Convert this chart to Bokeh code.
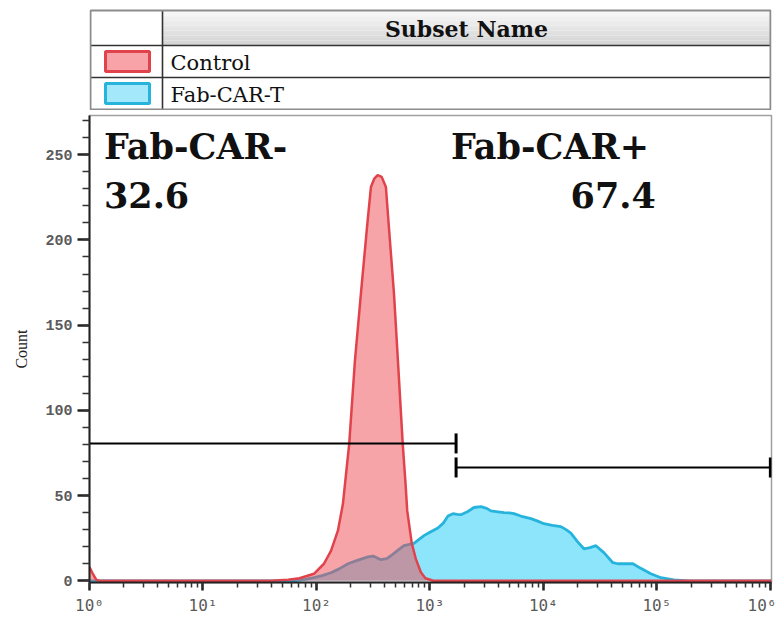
import numpy as np
from bokeh.plotting import figure
from bokeh.layouts import column
from bokeh.models import Range1d, SingleIntervalTicker, LogTicker, Label, CustomJSTickFormatter
from bokeh.embed import file_html
from bokeh.resources import INLINE
from bokeh.core.properties import value

# ---------------- data ----------------
# log10 of fluorescence intensity and event counts
control_log_fl = [0.0, 0.03, 0.06, 0.09, 1.60, 1.75, 1.85, 1.978, 2.066, 2.128, 2.189, 2.233,
                  2.289, 2.339, 2.392, 2.445, 2.48, 2.51, 2.539, 2.575, 2.612, 2.639, 2.683,
                  2.718, 2.76, 2.785, 2.80, 2.84, 2.875, 2.92, 2.96, 3.03, 6.01]
control_count = [8, 4, 0.5, 0, 0, 0.6, 1.5, 4.1, 10, 17.6, 29.4, 45,
                 80.6, 129, 168.6, 207, 231, 236, 238, 237, 231, 207, 168.6,
                 129, 80.6, 57, 41, 22, 13, 5, 1.5, 0, 0]

car_log_fl = [0.0, 1.80, 1.90, 1.978, 2.05, 2.128, 2.20, 2.278, 2.36, 2.454, 2.50, 2.568, 2.62,
              2.656, 2.71, 2.771, 2.859, 2.947, 3.00, 3.07, 3.12, 3.159, 3.203, 3.24, 3.273,
              3.33, 3.388, 3.449, 3.50, 3.537, 3.60, 3.652, 3.70, 3.740, 3.80, 3.890, 3.95,
              4.004, 4.08, 4.154, 4.20, 4.242, 4.30, 4.357, 4.41, 4.463, 4.533, 4.612, 4.656,
              4.72, 4.789, 4.850, 4.947, 5.035, 5.150, 5.273, 6.01]
car_count = [0, 0, 0.8, 1.8, 3, 4.7, 7, 10, 12, 14, 14.5, 12.4, 13,
             14.7, 17.5, 20.6, 22, 26.5, 28.5, 31, 34, 38, 39.4, 39, 38.8,
             40.5, 43, 43.5, 42.5, 41, 40.5, 40, 39.8, 39.4, 38, 36.5, 35,
             33.5, 32.5, 31.8, 30, 28, 23, 18.8, 19.5, 20.6, 16.5, 10.6, 10,
             10, 10, 7.6, 4.1, 1.8, 0.6, 0, 0]

subset_names = ["Control", "Fab-CAR-T"]
subset_fill = ["#f8a3a7", "#a3e8fb"]
subset_line = ["#e0434b", "#27b4dc"]

gate_names = ["Fab-CAR-", "Fab-CAR+"]
gate_pct = ["32.6", "67.4"]
gate_low = [1.0, 1700.0]
gate_high = [1700.0, 1.0e6]
gate_level = [80.6, 66.5]

y_interval = 50

SERIF = "DejaVu Serif"
FRAME_W = 682
BORDER_L = 89
BORDER_R = 5

# ---------------- histogram ----------------
ctrl_x = np.power(10.0, control_log_fl)
car_x = np.power(10.0, car_log_fl)

p = figure(x_axis_type="log", x_range=Range1d(1, 10 ** 6.01), y_range=Range1d(-1, 273),
           frame_width=FRAME_W, frame_height=467,
           min_border_left=BORDER_L, min_border_right=BORDER_R, min_border_top=5, min_border_bottom=32,
           output_backend="svg", toolbar_location=None)
p.grid.visible = False
p.outline_line_color = "#a0a0a0"
p.outline_line_width = 1.5
p.background_fill_color = "white"

p.varea(x=car_x, y1=np.zeros(len(car_x)), y2=car_count, fill_color="#8ce5fb", fill_alpha=1.0)
p.line(car_x, car_count, line_color=subset_line[1], line_width=2.8)
p.varea(x=ctrl_x, y1=np.zeros(len(ctrl_x)), y2=control_count, fill_color="#f04a52", fill_alpha=0.5)
p.line(ctrl_x, control_count, line_color=subset_line[0], line_width=2.5)

# gates
p.segment(x0=gate_low, y0=gate_level, x1=gate_high, y1=gate_level, line_color="black", line_width=2)
cap_x = [gate_high[0], gate_low[1], gate_high[1]]
cap_y = [gate_level[0], gate_level[1], gate_level[1]]
p.scatter(x=cap_x, y=cap_y, marker="dash", angle=np.pi / 2, size=20, line_color="black", line_width=3)

# gate labels
lab_kw = dict(text_font=SERIF, text_font_size="35px", text_font_style="bold", text_color="#111111")
p.add_layout(Label(x=1.34, y=242.5, text=gate_names[0], **lab_kw))
p.add_layout(Label(x=1.34, y=219, text=gate_pct[0], **lab_kw))
p.add_layout(Label(x=1531, y=242.5, text=gate_names[1], **lab_kw))
p.add_layout(Label(x=97900, y=219, text=gate_pct[1], text_align="right", **lab_kw))

# axes
p.yaxis.ticker = SingleIntervalTicker(interval=y_interval, num_minor_ticks=5)
p.xaxis.ticker = LogTicker(num_minor_ticks=10)
p.xaxis.formatter = CustomJSTickFormatter(code="""
    const sup = ['\u2070','\u00b9','\u00b2','\u00b3','\u2074','\u2075','\u2076','\u2077','\u2078','\u2079'];
    const e = Math.round(Math.log10(tick));
    return '10' + String(e).split('').map(d => sup[+d]).join('');
""")
for ax in (p.xaxis[0], p.yaxis[0]):
    ax.axis_line_color = "#222222"
    ax.axis_line_width = 2
    ax.major_tick_line_color = "#222222"
    ax.minor_tick_line_color = "#333333"
    ax.major_tick_line_width = 2.5
    ax.minor_tick_line_width = 1.5
    ax.major_tick_in = 0
    ax.minor_tick_in = 0
    ax.major_label_text_font_style = "bold"
    ax.major_label_text_color = "#5a5a5a"
p.yaxis.major_label_text_font = "Liberation Mono"
p.yaxis.major_label_text_font_size = "15px"
p.xaxis.major_label_text_font = "DejaVu Sans Mono"
p.xaxis.major_label_text_font_style = "normal"
p.xaxis.major_label_text_font_size = "16px"
p.xaxis.major_label_standoff = 5
p.yaxis.major_tick_out = 12
p.yaxis.minor_tick_out = 7
p.xaxis.major_tick_out = 8
p.xaxis.minor_tick_out = 5
p.yaxis.axis_label = "Count"
p.yaxis.axis_label_text_font = "Liberation Serif"
p.yaxis.axis_label_text_font_style = "normal"
p.yaxis.axis_label_text_font_size = "16px"
p.yaxis.axis_label_text_color = "#222222"
p.yaxis.axis_label_standoff = 12

# ---------------- legend table ----------------
# table figure shares the main frame's horizontal extent; data units = page pixels
TH = 110
t = figure(frame_width=FRAME_W, frame_height=TH,
           x_range=Range1d(BORDER_L, BORDER_L + FRAME_W), y_range=Range1d(TH, 0),
           min_border_left=BORDER_L, min_border_right=BORDER_R, min_border_top=0, min_border_bottom=0,
           output_backend="svg", toolbar_location=None)
t.axis.visible = False
t.grid.visible = False
t.outline_line_color = None

left, right, split = BORDER_L + 1, BORDER_L + FRAME_W - 1, 162
top, head_bot, bottom = 10, 45, 109
row_h = (bottom - head_bot) / len(subset_names)

# header gradient in the name column
n_strips = 14
edges = np.linspace(top, head_bot, n_strips + 1)
shades = np.linspace(248, 212, n_strips).astype(int)
t.quad(left=[split] * n_strips, right=[right] * n_strips, top=edges[:-1], bottom=edges[1:],
       fill_color=["#%02x%02x%02x" % (s, s, s) for s in shades], line_color=None)

row_tops = [head_bot + i * row_h for i in range(len(subset_names))]
row_mid = [rt + row_h / 2 for rt in row_tops]

# grid lines
t.segment(x0=[left, left], y0=[head_bot, row_tops[1]], x1=[right, right], y1=[head_bot, row_tops[1]],
          line_color="#333333", line_width=1.6)
t.segment(x0=[split], y0=[top], x1=[split], y1=[bottom], line_color="#333333", line_width=1.6)
t.quad(left=[left], right=[right], top=[top], bottom=[bottom], fill_color=None,
       line_color="#8c8c8c", line_width=2)

# swatches
t.rect(x=[(left + split) / 2 + 1] * 2, y=row_mid, width=44, height=20,
       fill_color=subset_fill, line_color=subset_line, line_width=3)

# texts
t.text(x=[(split + right) / 2], y=[(top + head_bot) / 2 + 1], text=["Subset Name"],
       text_font=value(SERIF), text_font_style="bold", text_font_size="22px",
       text_align="center", text_baseline="middle", text_color="#111111")
t.text(x=[split + 8] * 2, y=[m + 1 for m in row_mid], text=subset_names,
       text_font=value(SERIF), text_font_size="21px",
       text_align="left", text_baseline="middle", text_color="#111111")

layout = column(t, p, spacing=0)
open("out.html", "w").write(file_html(layout, INLINE))
